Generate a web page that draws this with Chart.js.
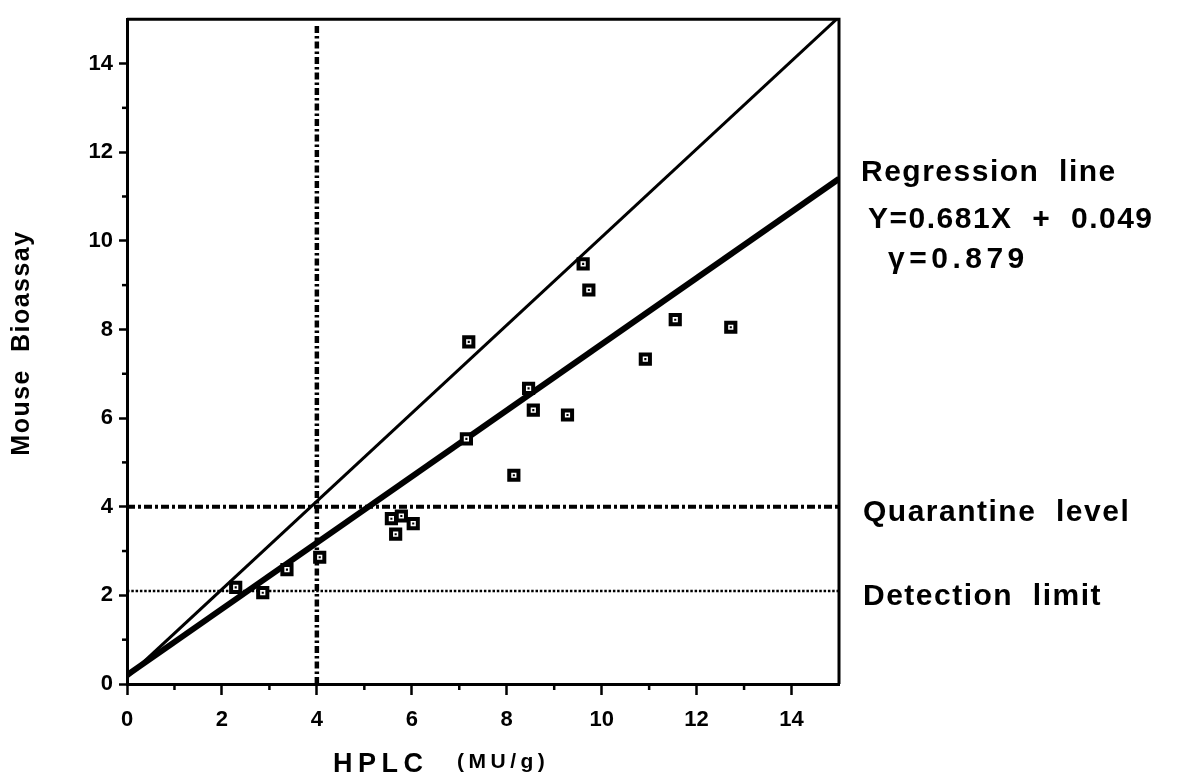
<!DOCTYPE html>
<html>
<head>
<meta charset="utf-8">
<script src="https://cdn.jsdelivr.net/npm/chart.js@4.4.1/dist/chart.umd.min.js"></script>
<style>
  html, body { margin: 0; padding: 0; background: #fff; }
  #wrap { width: 1180px; height: 783px; position: relative; }
</style>
</head>
<body>
<div id="wrap"><canvas id="chart"></canvas></div>
<script>
// samples: HPLC vs mouse bioassay (MU/g)
const hplc = [2.29, 2.86, 3.37, 4.06, 5.57, 5.78, 6.03, 5.66, 7.15, 7.2, 9.61, 9.73, 8.46, 8.56, 9.28, 8.15, 10.92, 11.55, 12.72];
const bioassay = [2.18, 2.06, 2.58, 2.86, 3.73, 3.79, 3.62, 3.38, 5.53, 7.72, 9.48, 8.89, 6.67, 6.18, 6.07, 4.71, 7.33, 8.22, 8.05];

// drawn lines (end points)
const identityX = [0, 15];
const identityY = [0.15, 15.05];
const regressionX = [0, 15];
const regressionY = [0.2, 11.4];

const quarantineLevel = 4;
const detectionLimit = 2.1;
const hplcCutoff = 4;
const cutoffTop = 14.9;

const xTickValues = [0, 2, 4, 6, 8, 10, 12, 14];
const yTickValues = [0, 2, 4, 6, 8, 10, 12, 14];
const minorTickValues = [1, 3, 5, 7, 9, 11, 13];

const FONT = "'Liberation Sans', Arial, Helvetica, sans-serif";

const toPoints = (xs, ys) => xs.map((x, i) => ({ x: x, y: ys[i] }));

const extras = {
  id: "extras",
  afterDraw(chart) {
    const ctx = chart.ctx;
    const area = chart.chartArea;
    const xs = chart.scales.x;
    const ys = chart.scales.y;

    ctx.save();
    ctx.strokeStyle = "#000";
    ctx.lineWidth = 3;
    ctx.beginPath();
    ctx.moveTo(area.left, area.top);
    ctx.lineTo(area.right, area.top);
    ctx.lineTo(area.right, area.bottom);
    ctx.stroke();

    // minor ticks
    ctx.lineWidth = 2.5;
    minorTickValues.forEach((v) => {
      const px = xs.getPixelForValue(v);
      ctx.beginPath();
      ctx.moveTo(px, area.bottom);
      ctx.lineTo(px, area.bottom + 6);
      ctx.stroke();
      const py = ys.getPixelForValue(v);
      ctx.beginPath();
      ctx.moveTo(area.left, py);
      ctx.lineTo(area.left - 5, py);
      ctx.stroke();
    });

    ctx.fillStyle = "#000";

    // y title
    ctx.save();
    ctx.translate(22, 343);
    ctx.rotate(-Math.PI / 2);
    ctx.font = "bold 25px " + FONT;
    ctx.letterSpacing = "1.5px";
    ctx.textAlign = "center";
    ctx.textBaseline = "middle";
    ctx.fillText("Mouse  Bioassay", 0, 0);
    ctx.restore();

    // x title
    ctx.textAlign = "left";
    ctx.textBaseline = "alphabetic";
    ctx.font = "bold 27px " + FONT;
    ctx.letterSpacing = "5.5px";
    ctx.fillText("HPLC", 333, 772);
    ctx.font = "bold 21px " + FONT;
    ctx.letterSpacing = "4.5px";
    ctx.fillText("(MU/g)", 457, 768);

    // annotations on the right
    ctx.font = "bold 30px " + FONT;
    ctx.letterSpacing = "1.5px";
    ctx.fillText("Regression  line", 861, 181);
    ctx.fillText("Y=0.681X  +  0.049", 868, 228);
    ctx.fillText("Quarantine  level", 863, ys.getPixelForValue(quarantineLevel) + 14);
    ctx.fillText("Detection  limit", 863, ys.getPixelForValue(detectionLimit) + 14);
    ctx.letterSpacing = "4.5px";
    ctx.fillText("\u03b3=0.879", 888, 268);
    ctx.restore();
  }
};

new Chart(document.getElementById("chart").getContext("2d"), {
  type: "scatter",
  data: {
    datasets: [
      {
        label: "samples",
        data: toPoints(hplc, bioassay),
        pointStyle: "rect",
        pointRadius: 6.5,
        pointBorderWidth: 4,
        pointBackgroundColor: "#fff",
        pointBorderColor: "#000",
        order: 0,
      },
      {
        label: "samples dot",
        data: toPoints(hplc, bioassay),
        pointStyle: "rect",
        pointRadius: 1.5,
        pointBorderWidth: 0,
        pointBackgroundColor: "#000",
        order: -1,
      },
      {
        label: "1:1",
        data: toPoints(identityX, identityY),
        showLine: true,
        borderColor: "#000",
        borderWidth: 3,
        pointRadius: 0,
        order: 2,
      },
      {
        label: "regression",
        data: toPoints(regressionX, regressionY),
        showLine: true,
        borderColor: "#000",
        borderWidth: 6,
        pointRadius: 0,
        order: 1,
      },
      {
        label: "quarantine",
        data: toPoints([0, 15], [quarantineLevel, quarantineLevel]),
        showLine: true,
        borderColor: "#000",
        borderWidth: 4,
        borderDash: [8, 3, 3, 3],
        pointRadius: 0,
        order: 3,
      },
      {
        label: "detection",
        data: toPoints([0, 15], [detectionLimit, detectionLimit]),
        showLine: true,
        borderColor: "#000",
        borderWidth: 2.5,
        borderDash: [2.5, 1.8],
        pointRadius: 0,
        order: 3,
      },
      {
        label: "cutoff",
        data: toPoints([hplcCutoff, hplcCutoff], [0, cutoffTop]),
        showLine: true,
        borderColor: "#000",
        borderWidth: 4.5,
        borderDash: [7, 3, 2.5, 3],
        pointRadius: 0,
        order: 3,
      },
    ],
  },
  options: {
    responsive: true,
    maintainAspectRatio: false,
    animation: false,
    events: [],
    layout: { padding: { left: 0, top: 10, right: 341, bottom: 0 } },
    plugins: {
      legend: { display: false },
      tooltip: { enabled: false },
    },
    scales: {
      x: {
        type: "linear",
        min: 0,
        max: 15,
        afterFit: (scale) => { scale.height = 99; },
        afterBuildTicks: (scale) => { scale.ticks = xTickValues.map((v) => ({ value: v })); },
        border: { display: true, color: "#000", width: 3 },
        grid: { drawOnChartArea: false, drawTicks: true, tickLength: 11, tickWidth: 2.5, tickColor: "#000" },
        ticks: {
          color: "#000",
          padding: 12,
          maxRotation: 0,
          font: { family: FONT, size: 22, weight: "bold" },
        },
      },
      y: {
        type: "linear",
        min: 0,
        max: 15,
        afterFit: (scale) => { scale.width = 127; },
        afterBuildTicks: (scale) => { scale.ticks = yTickValues.map((v) => ({ value: v })); },
        border: { display: true, color: "#000", width: 3 },
        grid: { drawOnChartArea: false, drawTicks: true, tickLength: 8, tickWidth: 2.5, tickColor: "#000" },
        ticks: {
          color: "#000",
          padding: 6,
          font: { family: FONT, size: 22, weight: "bold" },
        },
      },
    },
  },
  plugins: [extras],
});
</script>
</body>
</html>
